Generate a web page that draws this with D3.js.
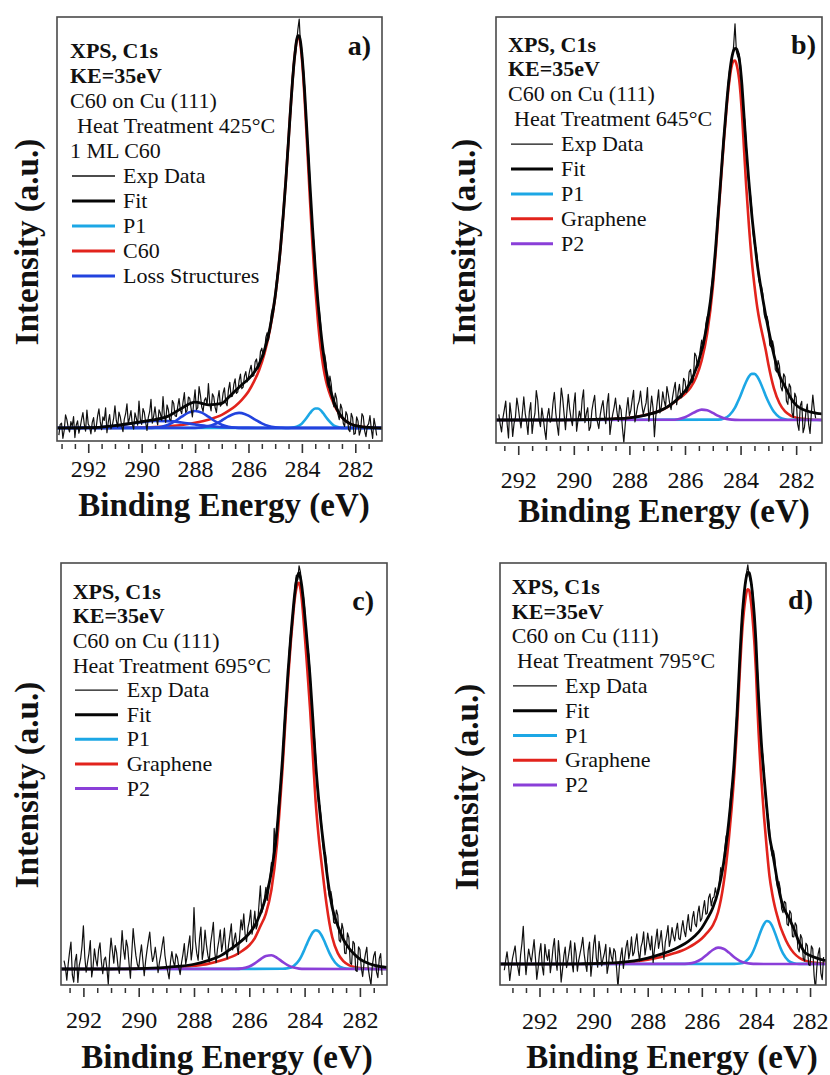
<!DOCTYPE html>
<html>
<head>
<meta charset="utf-8">
<script src="https://cdn.jsdelivr.net/npm/d3@7"></script>
<style>
  html, body { margin: 0; padding: 0; background: #ffffff; }
  svg { display: block; }
  text { font-family: "Liberation Serif", "Times New Roman", Times, serif; fill: #111; }
</style>
</head>
<body>
<svg id="fig" width="830" height="1075"></svg>
<script>
// ---------------- data ----------------
const tickLabels = [292, 290, 288, 286, 284, 282];
const expStep = 0.05;   // eV between measured points

// shared binding-energy grid (eV) for the fitted envelopes and main peaks
const fitEnergy = [293.5, 293.0, 292.5, 292.0, 291.5, 291.0, 290.5, 290.0, 289.5, 289.0, 288.5, 288.0, 287.5, 287.0,
  286.75, 286.5, 286.25, 286.0, 285.8, 285.6, 285.4, 285.2, 285.0, 284.9, 284.8, 284.7, 284.6, 284.5,
  284.45, 284.4, 284.35, 284.3, 284.25, 284.2, 284.15, 284.1, 284.05, 284.0, 283.95, 283.9,
  283.8, 283.7, 283.6, 283.5, 283.4, 283.3, 283.2, 283.1, 283.0, 282.8, 282.6, 282.4, 282.2, 282.0,
  281.75, 281.5, 281.25, 281.0];

// a) 425 °C, 1 ML C60
const aExpStart = 293.1;
const aExp = [
  -1.8, 0.9, 1.2, -2.6, -0.6, 3.3, 2.1, 0.1, -1.0, 1.6,
  0.4, 2.9, -2.4, 0.7, 1.8, -1.3, 0.2, 2.2, 3.9, 1.0,
  -0.8, 4.5, 1.0, 0.3, -1.5, 1.4, 2.6, -0.9, 0.3, 3.0,
  4.8, 1.6, -0.4, 2.8, 1.9, 5.1, -1.2, 1.5, 3.4, -0.2,
  0.6, 2.4, 5.6, 1.9, 0.2, 4.0, 2.8, 0.6, -0.9, 2.2,
  3.6, 6.1, 1.1, 2.6, 4.4, 0.9, -0.3, 3.8, 2.5, 0.7,
  6.8, 2.3, 0.9, 4.9, 3.9, 1.4, -0.6, 2.7, 4.1, 7.2,
  1.2, 3.0, 5.3, 2.4, 0.8, 4.6, 3.7, 1.9, 7.9, 3.2,
  1.4, 5.8, 4.6, 2.1, 2.0, 6.9, 6.2, 3.1, 2.9, 5.4,
  7.4, 4.5, 3.6, 6.6, 8.9, 3.9, 4.4, 7.8, 7.5, 5.0,
  2.8, 6.4, 9.6, 4.6, 5.1, 10.4, 8.3, 5.3, 4.2, 7.0,
  7.6, 5.8, 11.2, 6.1, 4.3, 8.6, 7.9, 5.2, 3.9, 7.3,
  9.4, 5.5, 6.0, 8.8, 10.1, 6.4, 5.6, 9.6, 11.5, 7.9,
  8.0, 10.9, 12.4, 8.7, 9.1, 12.0, 13.6, 9.9, 10.3, 13.1,
  14.2, 11.6, 12.9, 14.6, 15.8, 13.0, 13.2, 16.7, 17.4, 14.9,
  15.6, 19.3, 20.1, 17.9, 19.0, 22.8, 24.0, 22.1, 24.6, 28.6,
  30.2, 29.9, 32.6, 37.2, 40.0, 41.0, 44.9, 50.8, 54.6, 57.0,
  61.8, 68.9, 73.5, 76.5, 82.0, 88.9, 92.8, 93.8, 97.0, 100.4,
  103.0, 96.2, 93.5, 91.0, 86.2, 78.1, 72.6, 68.9, 62.8, 54.6,
  49.6, 46.7, 41.5, 34.8, 31.0, 29.9, 26.3, 20.2, 18.4, 18.6,
  16.5, 11.4, 10.2, 13.1, 11.0, 6.9, 5.3, 8.8, 7.4, 3.5,
  2.1, 6.0, 4.9, 1.2, 0.4, 4.1, 3.2, -0.4, -0.9, 3.7,
  2.6, -1.6, -1.4, 2.8, 1.8, -1.8, -0.5, 3.6, 2.9, -0.7,
  -2.2, 0.5, 1.1, 3.1, -0.3, -2.6, 2.4, 0.6, -1.9];
const aFit = [0, 0.01, 0.03, 0.09, 0.24, 0.59, 1.07, 1.62, 2.12, 3.0, 4.98, 6.54, 5.85, 6.21, 7.67, 9.33, 10.91, 12.32,
  13.91, 16.1, 19.66, 25.03, 33.19, 38.82, 45.47, 53.44, 62.52, 72.6, 77.8, 82.86, 87.5, 91.6, 94.9, 97.6, 98.85, 98.8,
  97.25, 94.2, 90.1, 85.1, 73.45, 61.5, 50.3, 40.3, 31.9, 24.9, 19.2, 14.75, 11.4, 6.6, 3.65, 2.02, 1.1, 0.6,
  0.3, 0.15, 0.05, 0];
const aC60 = [0, 0, 0, 0, 0, 0.04, 0.08, 0.15, 0.25, 0.45, 0.75, 1.3, 2.1, 3.3, 4.3, 5.5, 7.1, 9.2,
  11.6, 14.6, 18.8, 24.6, 33.0, 38.7, 45.4, 53.4, 62.5, 72.6, 77.8, 82.8, 87.5, 91.6, 94.9, 97.3, 98.4, 98.2,
  96.4, 93.1, 88.6, 83.2, 70.7, 57.8, 45.8, 35.4, 27.0, 20.4, 15.5, 12.0, 9.5, 6.0, 3.5, 2.0, 1.1, 0.6,
  0.3, 0.15, 0.05, 0];
const aP1Energy = [293.5, 284.6, 284.4, 284.2, 284.0, 283.9, 283.8, 283.7, 283.6, 283.5, 283.4, 283.3, 283.2, 283.1, 283.0, 282.8, 282.6, 282.4, 281.0];
const aP1 = [0, 0, 0.06, 0.3, 1.1, 1.9, 2.75, 3.7, 4.5, 4.9, 4.9, 4.5, 3.7, 2.75, 1.9, 0.6, 0.15, 0.02, 0];
const aLoss1Energy = [293.5, 289.75, 289.5, 289.25, 289.0, 288.75, 288.5, 288.25, 288.0, 287.75, 287.5, 287.25, 287.0, 286.75, 286.5, 286.25, 281.0];
const aLoss1 = [0, 0.03, 0.1, 0.33, 0.82, 1.7, 2.85, 3.88, 4.3, 3.88, 2.85, 1.7, 0.82, 0.33, 0.1, 0.03, 0];
const aLoss2Energy = [293.5, 288.0, 287.75, 287.5, 287.25, 287.0, 286.75, 286.5, 286.35, 286.25, 286.0, 285.75, 285.5, 285.25, 285.0, 284.75, 284.5, 281.0];
const aLoss2 = [0, 0.04, 0.15, 0.43, 1.0, 1.89, 2.92, 3.66, 3.8, 3.74, 3.1, 2.1, 1.15, 0.51, 0.19, 0.06, 0, 0];
const aLoss3Energy = [293.5, 293.0, 292.5, 292.0, 291.5, 291.0, 290.5, 290.0, 289.5, 289.0, 288.5, 288.0, 287.5, 287.0, 286.5, 286.0, 285.5, 281.0];
const aLoss3 = [0, 0.01, 0.03, 0.09, 0.24, 0.55, 0.99, 1.47, 1.77, 1.73, 1.38, 0.9, 0.47, 0.2, 0.07, 0.02, 0, 0];
const aNotes = ["XPS, C1s", "KE=35eV", "C60 on Cu (111)", "Heat Treatment 425°C", "1 ML C60"];
const aLegend = ["Exp Data", "Fit", "P1", "C60", "Loss Structures"];

// b) 645 °C
const bExpStart = 292.7;
const bExp = [
  1.5, -1.1, -3.2, 0.6, 2.8, 5.1, -1.0, -4.8, 4.6, 1.3,
  -4.4, -0.9, 0.8, 5.9, 3.5, 0.4, -2.1, 2.0, 6.2, 1.8,
  -0.5, -3.9, 2.2, 4.7, -3.6, -0.2, 1.7, 7.9, 5.3, 0.1,
  -1.8, 3.2, 0.6, -2.7, -5.2, 1.0, 3.1, -0.6, 0.2, 4.5,
  7.4, 2.0, -1.3, -4.1, 2.6, 8.6, 5.8, 1.5, -2.6, 2.2,
  6.9, 3.0, 0.4, -1.5, 4.1, 7.3, -3.0, -0.1, 2.4, 0.3,
  5.5, 8.1, -0.7, 1.8, 3.3, -2.8, -1.9, 2.5, 4.8, 6.6,
  0.9, -0.5, -2.3, 1.4, 3.6, 5.2, 1.1, -1.0, 4.4, 7.1,
  -3.9, -0.8, 1.6, 3.4, 5.9, 2.3, -0.4, 4.0, 2.7, -2.2,
  -6.0, -1.2, 3.0, 6.0, 1.2, 2.6, 5.4, 8.0, -0.5, 1.7,
  3.9, 5.1, 7.8, 4.0, 1.5, 3.2, 4.6, 8.7, -0.3, 2.5,
  6.4, 3.3, -4.5, 1.0, 4.8, 8.1, 1.9, 3.6, 7.6, 5.2,
  3.5, 9.0, 6.9, 4.4, 2.8, 6.0, 8.3, 10.1, 4.1, 7.2,
  9.6, 5.9, 6.3, 11.2, 10.5, 7.4, 8.1, 12.9, 13.6, 10.0,
  10.8, 18.0, 17.2, 14.1, 15.0, 19.0, 21.5, 19.3, 21.0, 25.9,
  27.8, 27.9, 30.1, 35.6, 38.9, 40.8, 45.1, 52.3, 57.4, 59.9,
  65.2, 72.5, 77.1, 79.6, 84.3, 90.5, 93.9, 94.8, 97.2, 100.6,
  106.5, 99.0, 97.6, 98.4, 95.3, 88.7, 83.4, 80.6, 74.8, 67.2,
  63.1, 61.0, 56.9, 50.1, 47.2, 46.3, 43.6, 37.9, 36.1, 36.0,
  33.9, 28.4, 27.0, 27.9, 26.2, 20.1, 19.6, 21.3, 19.4, 13.6,
  12.9, 16.0, 14.5, 8.9, 7.8, 12.4, 11.6, 5.1, 4.2, 9.7,
  8.9, 2.0, 0.7, 7.2, 6.1, -1.0, -2.8, 3.9, 5.0, -3.4,
  -1.9, 2.1, 4.3, -1.2, -3.6, 2.2, 6.7, 3.0, 0.5];
const bFit = [0, 0, 0, 0, 0, 0, 0, 0.05, 0.1, 0.2, 0.35, 0.6, 1.2, 2.2, 3.0, 4.2, 5.8, 7.8,
  10.2, 13.8, 18.8, 26.0, 37.5, 46.0, 56.0, 66.0, 76.0, 85.2, 89.3, 92.8, 95.8, 98.0, 99.3, 99.9, 99.8, 98.9,
  97.2, 94.2, 90.0, 84.5, 73.5, 64.0, 55.5, 48.5, 42.0, 37.0, 32.5, 28.3, 24.5, 17.5, 12.0, 9.0, 6.0, 4.0,
  2.8, 2.2, 1.8, 1.6];
const bGraphene = [0, 0, 0, 0, 0, 0, 0, 0.05, 0.1, 0.2, 0.35, 0.6, 1.2, 2.2, 3.0, 4.15, 5.6, 7.05,
  8.7, 11.5, 16.0, 23.4, 35.6, 44.5, 54.8, 65.0, 75.1, 84.2, 88.1, 91.3, 94.0, 95.7, 96.5, 96.6, 95.7, 94.0,
  91.5, 87.6, 82.4, 76.0, 63.2, 52.3, 43.1, 36.1, 30.3, 26.0, 22.5, 19.0, 15.0, 8.5, 4.5, 2.3, 1.2, 0.6,
  0.3, 0.15, 0.05, 0];
const bP1Energy = [293.5, 284.8, 284.6, 284.4, 284.2, 284.1, 284.0, 283.9, 283.8, 283.7, 283.6, 283.5, 283.4, 283.3, 283.2, 283.1, 283.0, 282.8, 282.6, 282.4, 282.2, 281.0];
const bP1 = [0, 0.1, 0.4, 1.3, 3.3, 4.9, 6.6, 8.5, 10.3, 11.7, 12.4, 12.4, 11.7, 10.3, 8.5, 6.6, 4.9, 2.2, 0.75, 0.2, 0.05, 0];
const bP2Energy = [293.5, 286.5, 286.25, 286.0, 285.8, 285.6, 285.4, 285.2, 285.0, 284.8, 284.6, 284.4, 284.2, 284.0, 281.0];
const bP2 = [0, 0.05, 0.22, 0.75, 1.49, 2.3, 2.78, 2.6, 1.9, 1.09, 0.48, 0.17, 0.04, 0, 0];
const bNotes = ["XPS, C1s", "KE=35eV", "C60 on Cu (111)", "Heat Treatment 645°C"];

// c) 695 °C
const cExpStart = 292.7;
const cExp = [
  2.1, 0.4, -2.8, 1.2, 4.3, 6.8, -1.5, -3.3, 1.9, 3.7,
  -3.4, 0.9, 2.6, 5.8, 10.9, 3.1, -0.8, 1.7, 3.9, 7.2,
  -2.0, 0.5, 5.1, 2.4, 0.7, 4.8, 6.6, 1.9, -1.2, 2.3,
  3.0, 0.2, -3.9, 3.5, 7.8, 4.6, 1.5, 5.9, 4.2, 0.8,
  -1.1, 3.6, 9.7, 5.0, 2.5, 7.3, 5.6, 1.4, -2.3, 4.0,
  10.2, 6.4, 3.3, 1.2, 0.1, 3.4, 6.1, 2.2, -1.7, 2.0,
  4.7, 7.1, 9.3, 4.8, 1.9, 3.1, 5.5, 2.6, -0.9, 1.7,
  3.6, 6.0, 8.1, 3.4, 1.0, -0.6, -2.5, 1.9, 4.4, 2.0,
  0.6, 3.8, 2.9, 0.4, -1.4, 1.6, 3.7, 6.4, 1.2, 3.1,
  5.9, 8.4, 2.3, 5.2, 15.5, 7.0, 4.0, 2.2, 7.6, 10.6,
  2.4, 4.9, 9.8, 6.1, 3.5, 1.8, 6.4, 8.9, 11.8, 4.3,
  1.6, 5.1, 7.2, 9.9, 4.4, 6.8, 10.3, 5.0, 2.6, 6.1,
  8.7, 11.4, 4.8, 7.3, 9.1, 6.0, 3.7, 8.2, 12.4, 9.9,
  13.9, 8.6, 6.9, 10.4, 12.1, 14.9, 8.8, 11.2, 14.6, 10.1,
  11.3, 16.3, 21.0, 14.2, 15.4, 17.9, 20.6, 17.3, 19.8, 23.6,
  26.9, 26.0, 35.5, 30.8, 34.2, 40.9, 45.3, 47.5, 52.1, 60.3,
  65.8, 68.4, 74.2, 81.0, 85.3, 87.1, 90.6, 96.7, 99.4, 98.3,
  101.8, 100.3, 95.1, 94.6, 91.2, 84.8, 80.9, 79.5, 74.6, 66.7,
  61.8, 59.0, 53.7, 46.4, 42.2, 41.3, 38.0, 31.9, 29.1, 29.4,
  26.3, 20.4, 18.0, 19.6, 17.4, 11.8, 11.5, 14.9, 13.6, 7.3,
  6.8, 11.5, 9.9, 4.0, 3.9, 9.1, 8.0, 1.5, 1.2, 7.0,
  6.4, -0.4, -0.6, 5.6, 4.9, 0.3, -1.9, 1.6, 3.8, 5.5,
  0.2, -2.1, -4.0, 0.9, 3.3, 4.4, -0.7, -2.2, 2.6, 3.9,
  -1.5];
const cFit = [0, 0, 0, 0, 0, 0, 0.05, 0.1, 0.2, 0.4, 0.7, 1.2, 2.1, 3.5, 4.7, 5.9, 7.3, 9.0,
  11.0, 14.0, 18.2, 24.5, 35.0, 43.5, 53.0, 64.3, 75.0, 84.0, 88.0, 91.8, 95.2, 97.8, 99.4, 100.0, 98.8, 96.6,
  93.5, 89.8, 86.0, 82.0, 73.5, 63.0, 52.0, 43.5, 36.5, 30.5, 24.5, 19.5, 15.5, 10.9, 7.5, 5.3, 3.7, 2.5,
  1.6, 1.0, 0.6, 0.4];
const cGraphene = [0, 0, 0, 0, 0, 0, 0, 0.05, 0.12, 0.25, 0.45, 0.8, 1.3, 2.2, 2.8, 3.5, 4.6, 6.0,
  7.8, 10.8, 14.0, 20.0, 31.5, 40.6, 50.5, 62.0, 73.0, 82.5, 86.5, 90.5, 93.8, 96.0, 97.3, 97.5, 96.0, 93.2,
  89.3, 84.8, 80.2, 75.4, 65.4, 53.7, 42.2, 34.0, 27.5, 21.5, 16.0, 11.5, 8.0, 4.0, 2.0, 1.0, 0.5, 0.25,
  0.1, 0, 0, 0];
const cP1Energy = [293.5, 284.8, 284.6, 284.4, 284.2, 284.1, 284.0, 283.9, 283.8, 283.7, 283.6, 283.5, 283.4, 283.3, 283.2, 283.1, 283.0, 282.8, 282.6, 282.4, 281.0];
const cP1 = [0, 0.05, 0.18, 0.73, 2.2, 3.45, 5.0, 6.6, 8.1, 9.3, 9.8, 9.55, 8.65, 7.25, 5.6, 4.0, 2.7, 0.94, 0.24, 0.05, 0];
const cP2Energy = [293.5, 286.5, 286.25, 286.0, 285.8, 285.6, 285.4, 285.2, 285.0, 284.8, 284.6, 284.4, 284.2, 284.0, 281.0];
const cP2 = [0, 0.03, 0.16, 0.63, 1.41, 2.44, 3.29, 3.46, 2.83, 1.81, 0.9, 0.35, 0.1, 0.02, 0];
const cNotes = ["XPS, C1s", "KE=35eV", "C60 on Cu (111)", "Heat Treatment 695°C"];

// d) 795 °C
const dExpStart = 293.3;
const dExp = [
  -1.6, 0.9, 3.1, 0.2, -4.2, -1.3, 1.4, 3.0, 4.6, 0.6,
  -0.8, -2.9, 2.3, 5.2, 9.6, 2.4, -2.7, 0.8, 3.8, 1.9,
  0.5, 3.3, 6.2, 1.5, -3.9, -1.0, 2.9, 5.2, -0.6, -2.8,
  5.0, 2.4, 0.9, 3.7, -2.2, 0.4, 4.1, 6.5, 1.2, -1.6,
  6.0, 2.0, -4.6, -1.5, 2.1, 4.3, -0.9, 1.0, 3.4, 5.9,
  0.3, -2.0, 5.4, 2.8, -1.8, 0.9, 2.7, 4.5, 6.8, 2.6,
  0.1, -1.9, 3.5, 5.6, -3.1, 0.4, 4.9, 7.4, 1.6, -0.8,
  5.8, 3.3, -0.5, 1.4, 2.8, 5.0, -2.4, -0.3, 4.2, 2.0,
  0.6, 3.9, 3.1, -1.2, -6.0, -0.9, 2.0, 4.1, -1.1, 1.7,
  4.4, 6.0, 1.3, 3.2, 6.9, 2.1, 3.0, 5.6, 7.7, 3.4,
  0.8, 4.3, 5.6, 8.2, 2.3, 4.6, 7.9, 5.5, 3.6, 7.1,
  0.4, 3.8, 6.3, 8.9, 4.0, 6.0, 8.5, 4.4, 1.2, 5.6,
  7.4, 9.8, 4.5, 6.3, 9.3, 7.1, 5.9, 8.6, 10.4, 6.5,
  6.2, 9.0, 11.1, 8.4, 7.0, 10.0, 12.6, 8.9, 8.3, 11.7,
  13.4, 10.2, 9.5, 13.0, 14.8, 10.9, 11.6, 14.1, 16.2, 12.7,
  13.0, 16.9, 17.9, 14.8, 16.8, 17.1, 19.4, 17.5, 18.0, 21.2,
  24.6, 23.0, 25.1, 29.5, 32.7, 32.4, 35.8, 41.5, 45.0, 46.4,
  51.3, 58.9, 64.9, 69.5, 76.6, 84.7, 90.5, 92.4, 96.0, 99.7,
  101.8, 98.9, 97.5, 96.8, 93.6, 86.9, 81.4, 76.1, 69.0, 60.4,
  55.7, 53.5, 49.3, 42.2, 39.1, 37.9, 34.5, 29.5, 27.6, 28.9,
  26.8, 21.4, 19.5, 21.0, 19.2, 14.1, 13.1, 16.0, 15.6, 10.2,
  9.8, 13.6, 12.9, 7.0, 6.9, 10.5, 9.8, 4.0, 3.1, 7.5,
  6.6, 1.4, 0.8, 5.3, 4.7, -0.2, -0.4, 4.6, 3.9, -2.9,
  -6.5, -1.0, 2.6, 4.1, -2.3, -4.0, 1.8];
const dFit = [0, 0, 0, 0, 0, 0, 0.05, 0.1, 0.2, 0.4, 0.8, 1.5, 2.5, 3.8, 4.7, 5.8, 7.2, 9.2,
  11.5, 14.2, 18.5, 25.5, 36.5, 43.5, 52.0, 63.5, 77.5, 89.3, 93.5, 96.7, 98.9, 99.9, 99.8, 98.4, 95.9, 92.3,
  88.0, 82.3, 74.5, 67.8, 56.5, 47.8, 40.0, 32.8, 29.0, 24.9, 20.8, 17.3, 14.8, 12.0, 9.0, 5.5, 3.0, 2.2,
  1.5, 1.0, 0.8, 0.6];
const dGraphene = [0, 0, 0, 0, 0, 0, 0, 0.07, 0.15, 0.3, 0.6, 1.1, 1.8, 2.8, 3.4, 4.2, 5.2, 6.5,
  8.0, 9.8, 13.2, 20.3, 32.0, 39.6, 48.6, 60.2, 74.0, 85.6, 89.6, 92.6, 94.8, 95.6, 95.3, 93.3, 90.3, 86.1,
  81.2, 74.8, 66.4, 58.9, 47.0, 37.5, 29.5, 22.5, 18.0, 14.6, 12.0, 9.6, 7.8, 4.8, 2.8, 1.6, 0.9, 0.5,
  0.25, 0.1, 0.05, 0];
const dP1Energy = [293.5, 284.8, 284.6, 284.4, 284.2, 284.1, 284.0, 283.9, 283.8, 283.7, 283.6, 283.5, 283.4, 283.3, 283.2, 283.1, 283.0, 282.8, 282.6, 282.4, 281.0];
const dP1 = [0, 0.02, 0.11, 0.56, 1.97, 3.26, 4.94, 6.87, 8.75, 10.2, 10.96, 10.77, 9.7, 8.0, 6.1, 4.2, 2.7, 0.85, 0.19, 0.03, 0];
const dP2Energy = [293.5, 286.75, 286.5, 286.25, 286.0, 285.8, 285.6, 285.4, 285.2, 285.0, 284.8, 284.6, 284.4, 284.2, 284.0, 281.0];
const dP2 = [0, 0.02, 0.1, 0.45, 1.32, 2.43, 3.57, 4.18, 3.91, 2.91, 1.73, 0.82, 0.31, 0.09, 0.02, 0];
const dNotes = ["XPS, C1s", "KE=35eV", "C60 on Cu (111)", "Heat Treatment 795°C"];

const grapheneLegend = ["Exp Data", "Fit", "P1", "Graphene", "P2"];

// ---------------- styling ----------------
const col = { exp: "#111111", fit: "#050505", p1: "#1ca7e5", main: "#e2231c", p2: "#8a3fd8", loss: "#2243de" };
const legendStyles = {
  "Exp Data": { color: col.exp, width: 1.3 },
  "Fit": { color: col.fit, width: 3 },
  "P1": { color: col.p1, width: 3 },
  "C60": { color: col.main, width: 3 },
  "Graphene": { color: col.main, width: 3 },
  "Loss Structures": { color: col.loss, width: 3 },
  "P2": { color: col.p2, width: 3 }
};

const panels = [
  { id: "a", letter: "a)", box: [57, 382, 17, 441], xDomain: [293.17, 281.0], yRange: [428, 31],
    expStart: aExpStart, exp: aExp, fit: aFit, main: aC60,
    comps: [
      { e: aP1Energy, v: aP1, color: col.p1 },
      { e: aLoss3Energy, v: aLoss3, color: col.loss },
      { e: aLoss1Energy, v: aLoss1, color: col.loss },
      { e: aLoss2Energy, v: aLoss2, color: col.loss }
    ],
    notes: aNotes, legend: aLegend, textX: 70, indent: { 3: 77 }, row0: 51, rowStep: 25,
    legLine: [72, 115], legText: 123, letterX: 371, letterY: 55,
    tickLabelY: 469, titleX: 224, titleY: 516, yLabelX: 38, yLabelY: 242 },
  { id: "b", letter: "b)", box: [496, 822, 17, 443], xDomain: [292.80, 281.07], yRange: [420, 48],
    expStart: bExpStart, exp: bExp, fit: bFit, main: bGraphene,
    comps: [
      { e: bP1Energy, v: bP1, color: col.p1 },
      { e: bP2Energy, v: bP2, color: col.p2 }
    ],
    notes: bNotes, legend: grapheneLegend, textX: 508, indent: { 3: 514 }, row0: 44.5, rowStep: 24.9,
    legLine: [511, 553], legText: 561, letterX: 816, letterY: 54,
    tickLabelY: 480, titleX: 664, titleY: 522, yLabelX: 475, yLabelY: 242 },
  { id: "c", letter: "c)", box: [61, 387, 563, 985], xDomain: [292.81, 281.02], yRange: [969, 573],
    expStart: cExpStart, exp: cExp, fit: cFit, main: cGraphene,
    comps: [
      { e: cP1Energy, v: cP1, color: col.p1 },
      { e: cP2Energy, v: cP2, color: col.p2 }
    ],
    notes: cNotes, legend: grapheneLegend, textX: 72.7, indent: {}, row0: 591.7, rowStep: 24.6,
    legLine: [75, 118], legText: 126.7, letterX: 374, letterY: 610,
    tickLabelY: 1020, titleX: 227, titleY: 1068, yLabelX: 38, yLabelY: 785 },
  { id: "d", letter: "d)", box: [500, 826, 563, 985], xDomain: [293.46, 281.41], yRange: [964, 572],
    expStart: dExpStart, exp: dExp, fit: dFit, main: dGraphene,
    comps: [
      { e: dP1Energy, v: dP1, color: col.p1 },
      { e: dP2Energy, v: dP2, color: col.p2 }
    ],
    notes: dNotes, legend: grapheneLegend, textX: 511.7, indent: { 3: 517 }, row0: 586.7, rowStep: 24.8,
    legLine: [513, 557], legText: 565, letterX: 813, letterY: 609,
    tickLabelY: 1021, titleX: 672, titleY: 1068, yLabelX: 478, yLabelY: 787 }
];

const svg = d3.select("#fig");
const defs = svg.append("defs");

function drawPanel(p) {
  const [x0, x1, y0, y1] = p.box;
  const x = d3.scaleLinear().domain(p.xDomain).range([x0, x1]);
  const y = d3.scaleLinear().domain([0, 100]).range(p.yRange);
  const g = svg.append("g").attr("class", "panel-" + p.id);

  defs.append("clipPath").attr("id", "clip-" + p.id)
    .append("rect").attr("x", x0).attr("y", y0).attr("width", x1 - x0).attr("height", y1 - y0);
  const plot = g.append("g").attr("clip-path", `url(#clip-${p.id})`);

  const smooth = d3.line().x(d => x(d[0])).y(d => y(d[1])).curve(d3.curveMonotoneX);
  const raw = d3.line().x(d => x(d[0])).y(d => y(d[1]));

  // main peak, then the minor components
  plot.append("path").datum(d3.zip(fitEnergy, p.main)).attr("d", smooth)
    .attr("fill", "none").attr("stroke", col.main).attr("stroke-width", 2.6).attr("stroke-linejoin", "round");
  p.comps.forEach(c => {
    plot.append("path").datum(d3.zip(c.e, c.v)).attr("d", smooth)
      .attr("fill", "none").attr("stroke", c.color).attr("stroke-width", 2.6).attr("stroke-linejoin", "round");
  });

  // measured spectrum
  const expE = p.exp.map((v, i) => +(p.expStart - i * expStep).toFixed(2));
  plot.append("path").datum(d3.zip(expE, p.exp)).attr("d", raw)
    .attr("fill", "none").attr("stroke", col.exp).attr("stroke-width", 1.2).attr("stroke-linejoin", "round");

  // fitted envelope
  plot.append("path").datum(d3.zip(fitEnergy, p.fit)).attr("d", smooth)
    .attr("fill", "none").attr("stroke", col.fit).attr("stroke-width", 2.8).attr("stroke-linejoin", "round");

  // frame
  g.append("rect").attr("x", x0).attr("y", y0).attr("width", x1 - x0).attr("height", y1 - y0)
    .attr("fill", "none").attr("stroke", "#4a4a4a").attr("stroke-width", 1.6);

  // bottom axis: minor ticks every 0.5 eV, labelled major ticks every 2 eV
  const lo = Math.min(p.xDomain[0], p.xDomain[1]), hi = Math.max(p.xDomain[0], p.xDomain[1]);
  const minorVals = d3.range(Math.ceil(lo * 2) / 2, hi, 0.5)
    .filter(v => Math.abs(x(v) - x0) > 3 && Math.abs(x(v) - x1) > 3 && tickLabels.indexOf(v) < 0);
  const axisY = y1 + 3;
  const minor = d3.axisBottom(x).tickValues(minorVals).tickSize(5).tickFormat("");
  const ga = g.append("g").attr("transform", `translate(0,${axisY})`).call(minor);
  ga.select(".domain").remove();
  ga.selectAll("line").attr("stroke", "#333").attr("stroke-width", 1.5);

  const labelPad = (p.tickLabelY - axisY) - 9 - 9;
  const major = d3.axisBottom(x).tickValues(tickLabels).tickSize(9).tickPadding(labelPad).tickFormat(d3.format("d"));
  const gm = g.append("g").attr("transform", `translate(0,${axisY})`).call(major);
  gm.select(".domain").remove();
  gm.selectAll("line").attr("stroke", "#333").attr("stroke-width", 1.6);
  gm.selectAll("text").attr("font-size", 24).attr("fill", "#111")
    .attr("font-family", '"Liberation Serif", "Times New Roman", serif');

  // axis titles
  g.append("text").attr("x", p.titleX).attr("y", p.titleY).attr("text-anchor", "middle")
    .attr("font-size", 33).attr("font-weight", "bold").text("Binding Energy (eV)");
  g.append("text").attr("transform", `translate(${p.yLabelX},${p.yLabelY}) rotate(-90)`)
    .attr("text-anchor", "middle").attr("font-size", 33).attr("font-weight", "bold").text("Intensity (a.u.)");

  // panel letter
  g.append("text").attr("x", p.letterX).attr("y", p.letterY).attr("text-anchor", "end")
    .attr("font-size", 28).attr("font-weight", "bold").text(p.letter);

  // annotation block
  p.notes.forEach((t, i) => {
    g.append("text").attr("x", p.indent[i] !== undefined ? p.indent[i] : p.textX)
      .attr("y", p.row0 + i * p.rowStep + 7).attr("font-size", 22)
      .attr("font-weight", i < 2 ? "bold" : "normal").text(t);
  });
  p.legend.forEach((name, j) => {
    const cy = p.row0 + (p.notes.length + j) * p.rowStep;
    const st = legendStyles[name];
    g.append("line").attr("x1", p.legLine[0]).attr("x2", p.legLine[1]).attr("y1", cy).attr("y2", cy)
      .attr("stroke", st.color).attr("stroke-width", st.width);
    g.append("text").attr("x", p.legText).attr("y", cy + 7).attr("font-size", 22).text(name);
  });
}

panels.forEach(drawPanel);
</script>
</body>
</html>
